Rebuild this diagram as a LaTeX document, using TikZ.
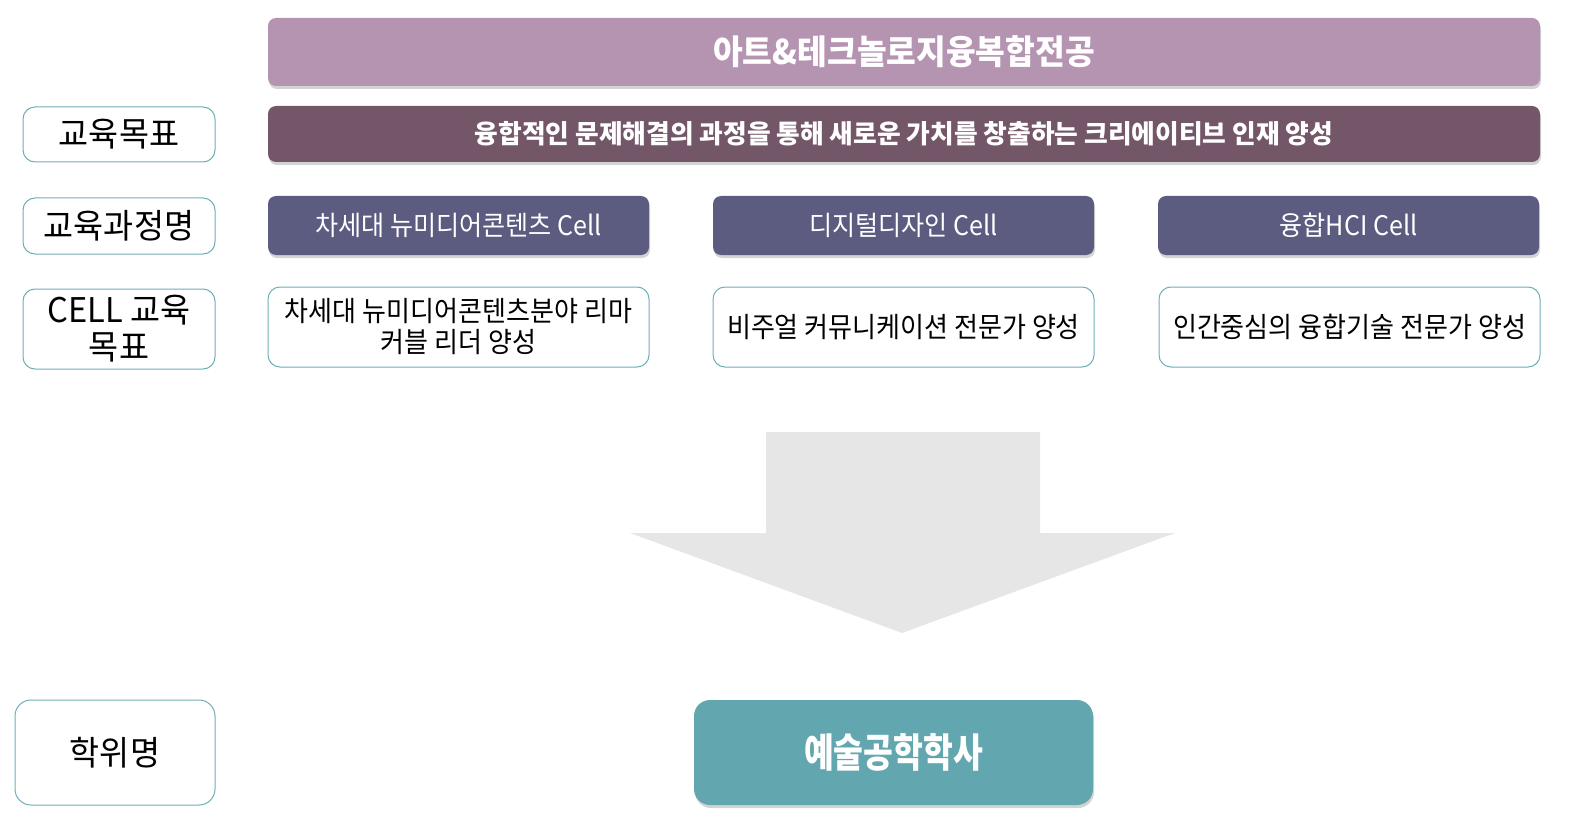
\documentclass[tikz,border=0pt]{standalone}
\usepackage{fontspec}
\setmainfont{Noto Sans CJK KR}
\newfontfamily\krn{Noto Sans CJK KR}[FakeStretch=0.93]
\newfontfamily\krl{Noto Sans CJK KR}[FakeStretch=0.96]
\newfontfamily\krw{Noto Sans CJK KR}[FakeStretch=0.99]
\newfontfamily\krc{Noto Sans CJK KR}[FakeStretch=0.81]
\newfontfamily\krt{Noto Sans CJK KR}[FakeStretch=0.95]
\usetikzlibrary{shadows}
\definecolor{topbar}{HTML}{B594B2}
\definecolor{subbar}{HTML}{745669}
\definecolor{cellbar}{HTML}{5C5B80}
\definecolor{tealfill}{HTML}{62A6AF}
\definecolor{tealline}{HTML}{6FAEB6}
\definecolor{arrowgray}{HTML}{E6E6E6}
\tikzset{
  shade/.style={drop shadow={shadow xshift=1pt,shadow yshift=-3pt,opacity=0.35}},
  bar/.style={shade,rounded corners=8pt,inner sep=0pt,align=center,text=white},
  label/.style={draw=tealline,line width=1pt,fill=white,rounded corners=12pt,inner sep=0pt,align=center,text=black,font=\krl\fontsize{34}{38}\selectfont},
  goalbox/.style={draw=tealline,line width=1pt,fill=white,rounded corners=12pt,inner sep=0pt,align=center,text=black,minimum width=381pt,minimum height=80pt,font=\krn\fontsize{28}{31}\selectfont},
  cellbox/.style={bar,fill=cellbar,minimum width=381pt,minimum height=59pt,font=\krn\fontsize{27}{30}\selectfont}
}
\begin{document}
\begin{tikzpicture}[x=1pt,y=-1pt]
% header bars
\node[bar,fill=topbar,minimum width=1272pt,minimum height=68pt,font=\krt\bfseries\fontsize{34}{36}\selectfont] (top) at (904,52) {아트\&테크놀로지융복합전공};
\node[bar,fill=subbar,minimum width=1272pt,minimum height=56pt,font=\krw\bfseries\fontsize{26}{28}\selectfont] (sub) at (904,134) {융합적인 문제해결의 과정을 통해 새로운 가치를 창출하는 크리에이티브 인재 양성};
% left labels
\node[label,minimum width=192pt,minimum height=55pt] (l1) at (119,134.5) {교육목표};
\node[label,minimum width=192pt,minimum height=56pt] (l2) at (119,226) {교육과정명};
\node[label,minimum width=192pt,minimum height=80pt,font=\krl\fontsize{34}{37}\selectfont] (l3) at (119,329) {CELL 교육\\목표};
\node[label,minimum width=200pt,minimum height=105pt,rounded corners=16pt] (l4) at (115,752.5) {학위명};
% cells
\node[cellbox] (c1) at (458.5,225.5) {차세대 뉴미디어콘텐츠 Cell};
\node[cellbox] (c2) at (903.5,225.5) {디지털디자인 Cell};
\node[cellbox] (c3) at (1348.5,225.5) {융합HCI Cell};
% goals
\node[goalbox] (g1) at (458.5,327) {차세대 뉴미디어콘텐츠분야 리마\\커블 리더 양성};
\node[goalbox] (g2) at (903.5,327) {비주얼 커뮤니케이션 전문가 양성};
\node[goalbox] (g3) at (1349.5,327) {인간중심의 융합기술 전문가 양성};
% arrow
\fill[arrowgray] (766,432) -- (1040,432) -- (1040,533) -- (1175,533) -- (902,633) -- (630,533) -- (766,533) -- cycle;
% degree
\node[bar,fill=tealfill,rounded corners=16pt,minimum width=399pt,minimum height=105pt,font=\krc\bfseries\fontsize{40}{42}\selectfont] (deg) at (893.5,752.5) {예술공학학사};
\pgfresetboundingbox
\path[use as bounding box] (0,0) rectangle (1584,829);
\end{tikzpicture}
\end{document}
